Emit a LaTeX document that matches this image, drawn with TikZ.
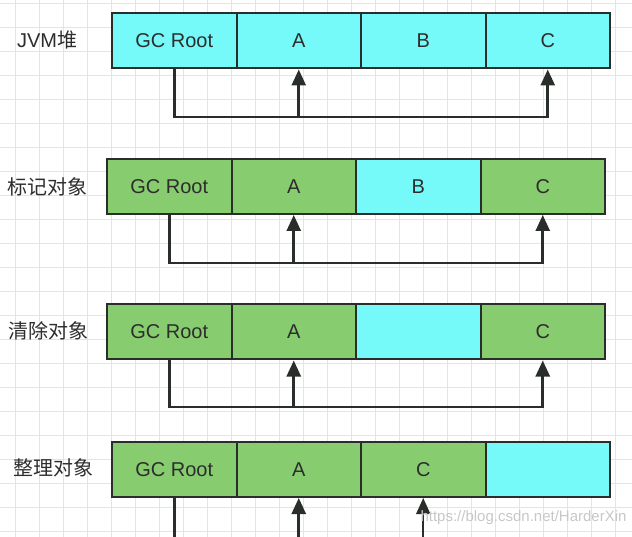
\documentclass[tikz,border=0pt]{standalone}
\usepackage{fontspec}
\setmainfont{Liberation Sans}
\newfontfamily\cjk{Noto Sans CJK SC}
\usepackage{tikz}
\usetikzlibrary{arrows.meta}

\definecolor{heapcyan}{RGB}{118,249,249}
\definecolor{markgreen}{RGB}{136,204,112}
\definecolor{cellline}{RGB}{42,46,42}
\definecolor{inktext}{RGB}{45,45,45}
\definecolor{gridgray}{RGB}{228,228,232}

\begin{document}
\begin{tikzpicture}[x=1pt, y=-1pt,
    cell/.style={draw=cellline, line width=2pt, minimum width=124.5pt, minimum height=55pt, inner sep=0pt, text=inktext, font=\fontsize{20}{24}\selectfont},
    free/.style={cell, fill=heapcyan},
    live/.style={cell, fill=markgreen},
    rowlabel/.style={text=inktext, font=\fontsize{20}{24}\selectfont\cjk},
    wire/.style={draw=cellline, line width=2.6pt},
    ref/.style={wire, -{Triangle[length=16pt, width=14pt]}}]
    \useasboundingbox (0,0) rectangle (632,537);
    \foreach \gx in {15,39,...,615} \draw[gridgray, line width=0.9pt] (\gx,0) -- (\gx,537);
    \foreach \gy in {3,27,...,531} \draw[gridgray, line width=0.9pt] (0,\gy) -- (632,\gy);
    % JVM heap
    \node [rowlabel] (heap) at (47,40) {{\rmfamily JVM}堆};
    \node [free] (r1root) at (174.25,41) {GC Root};
    \node [free] (r1a) at (298.75,41) {A};
    \node [free] (r1b) at (423.25,41) {B};
    \node [free] (r1c) at (547.75,41) {C};
    \coordinate (r1turn) at (r1c.south |- 0,117);
    \coordinate (r1join) at (r1a.south |- 0,117);
    \draw [ref] (r1root.south) |- (r1turn) -- (r1c.south);
    \draw [ref] (r1join) -- (r1a.south);
    % mark
    \node [rowlabel] (mark) at (48,187) {标记对象};
    \node [live] (r2root) at (169.25,186.5) {GC Root};
    \node [live] (r2a) at (293.75,186.5) {A};
    \node [free] (r2b) at (418.25,186.5) {B};
    \node [live] (r2c) at (542.75,186.5) {C};
    \coordinate (r2turn) at (r2c.south |- 0,263);
    \coordinate (r2join) at (r2a.south |- 0,263);
    \draw [ref] (r2root.south) |- (r2turn) -- (r2c.south);
    \draw [ref] (r2join) -- (r2a.south);
    % sweep
    \node [rowlabel] (sweep) at (49,331) {清除对象};
    \node [live] (r3root) at (169.25,332) {GC Root};
    \node [live] (r3a) at (293.75,332) {A};
    \node [free] (r3b) at (418.25,332) {};
    \node [live] (r3c) at (542.75,332) {C};
    \coordinate (r3turn) at (r3c.south |- 0,407);
    \coordinate (r3join) at (r3a.south |- 0,407);
    \draw [ref] (r3root.south) |- (r3turn) -- (r3c.south);
    \draw [ref] (r3join) -- (r3a.south);
    % compact
    \node [rowlabel] (compact) at (53,468) {整理对象};
    \node [live] (r4root) at (174.25,469.5) {GC Root};
    \node [live] (r4a) at (298.75,469.5) {A};
    \node [live] (r4c) at (423.25,469.5) {C};
    \node [free] (r4free) at (547.75,469.5) {};
    \coordinate (r4rootend) at (r4root.south |- 0,537);
    \coordinate (r4aend) at (r4a.south |- 0,537);
    \coordinate (r4cend) at (r4c.south |- 0,537);
    \draw [wire] (r4root.south) -- (r4rootend);
    \draw [ref] (r4aend) -- (r4a.south);
    \draw [ref, line width=1.8pt] (r4cend) -- (r4c.south);
    \node [text=black!22, font=\fontsize{15}{18}\selectfont, anchor=east] (mark2) at (630,518) {https://blog.csdn.net/HarderXin};
\end{tikzpicture}
\end{document}
